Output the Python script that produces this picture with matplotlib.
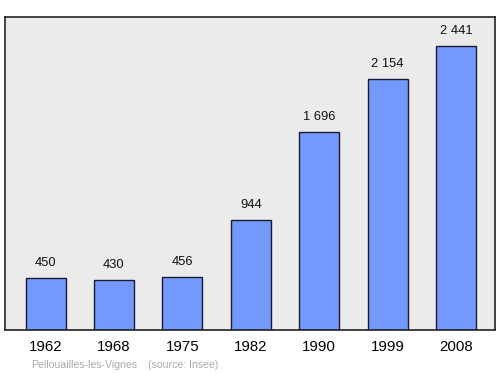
import matplotlib
matplotlib.use("Agg")
import matplotlib.pyplot as plt

years = ['1962', '1968', '1975', '1982', '1990', '1999', '2008']
population = [450, 430, 456, 944, 1696, 2154, 2441]
value_labels = ['450', '430', '456', '944', '1 696', '2 154', '2 441']

plt.rcParams['font.family'] = ['Liberation Sans', 'DejaVu Sans']

fig = plt.figure(figsize=(5, 3.74), dpi=100)
ax = fig.add_axes([0.01, 0.1176, 0.98, 0.8369])
ax.set_facecolor('#ebebeb')

x = range(len(years))
ax.bar(x, population, width=0.585, color='#7399ff', edgecolor='#1a1a2e', linewidth=1.0, zorder=2)

for i, v in enumerate(population):
    ax.annotate(value_labels[i], (i, v), xytext=(0, 6.5), textcoords='offset points',
                ha='center', va='bottom', fontsize=9.3, color='#111111')

ax.set_xlim(-0.593, 6.571)
ax.set_ylim(0, 2687)
ax.set_yticks([])
ax.set_xticks(list(x))
ax.set_xticklabels(years, fontsize=10.8)
ax.tick_params(axis='x', length=0, pad=7)
for s in ax.spines.values():
    s.set_linewidth(1.2)
    s.set_color('#222222')

fig.text(31 / 500, 1 - 365 / 374, 'Pellouailles-les-Vignes', fontsize=7.6, color='#aaaaaa', va='center')
fig.text(148 / 500, 1 - 365 / 374, '(source: Insee)', fontsize=7.6, color='#aaaaaa', va='center')

fig.savefig('out.png', dpi=100)
